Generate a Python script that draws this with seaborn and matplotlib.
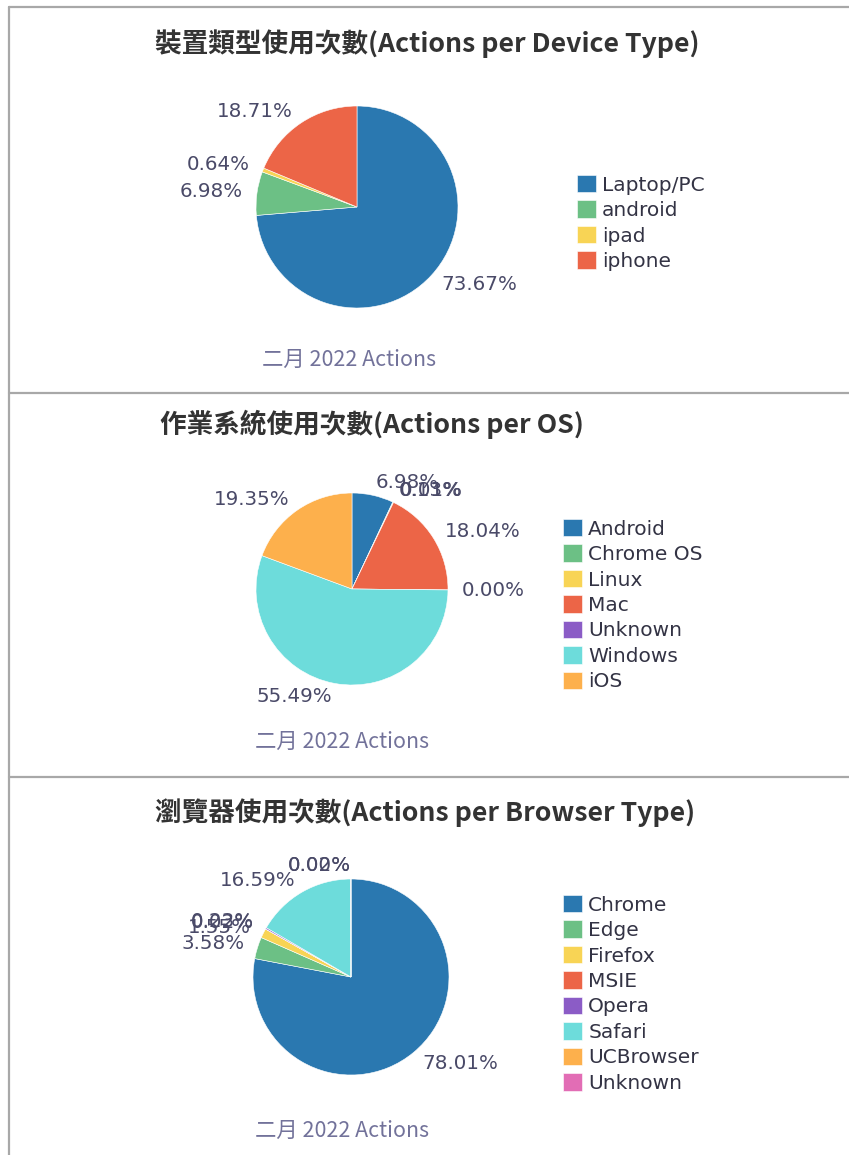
import matplotlib
matplotlib.use('Agg')
import matplotlib.pyplot as plt
import seaborn as sns
from matplotlib.lines import Line2D

sns.set_theme(style="white")
plt.rcParams['font.family'] = ['DejaVu Sans', 'Noto Sans CJK TC']

# data
device_labels = ['Laptop/PC', 'android', 'ipad', 'iphone']
device_values = [73.67, 6.98, 0.64, 18.71]

os_labels = ['Android', 'Chrome OS', 'Linux', 'Mac', 'Unknown', 'Windows', 'iOS']
os_values = [6.98, 0.13, 0.01, 18.04, 0.00, 55.49, 19.35]

browser_labels = ['Chrome', 'Edge', 'Firefox', 'MSIE', 'Opera', 'Safari', 'UCBrowser', 'Unknown']
browser_values = [78.01, 3.58, 1.55, 0.02, 0.23, 16.59, 0.00, 0.02]

titles = ['裝置類型使用次數(Actions per Device Type)',
          '作業系統使用次數(Actions per OS)',
          '瀏覽器使用次數(Actions per Browser Type)']
subtitle = '二月 2022 Actions'

palette = sns.color_palette(['#2a78b0', '#6cc085', '#f8d455', '#ec6547',
                             '#8b5cc6', '#6ddcdb', '#fdb04c', '#e26db5'])

W, H = 849, 1155
fig = plt.figure(figsize=(W / 100, H / 100), dpi=100)
fig.patch.set_facecolor('white')


def fx(x):
    return x / W


def fy(y):
    return 1 - y / H


# panel frame lines
line_kw = dict(color='#a8a8a8', linewidth=1.6)
fig.add_artist(Line2D([fx(9), fx(9)], [fy(7), fy(H)], **line_kw))
for yy in [7, 393, 777]:
    fig.add_artist(Line2D([fx(9), 1], [fy(yy), fy(yy)], **line_kw))

panels = [
    # values, labels, pie center x, y, radius, title pos, subtitle pos, legend pos
    (device_values, device_labels, 357, 207, 101, (155, 44), (262, 360), (577, 175)),
    (os_values, os_labels, 352, 589, 96, (160, 424), (255, 742), (563, 519)),
    (browser_values, browser_labels, 351, 977, 98, (155, 813), (255, 1131), (563, 895)),
]

cjk = ['Noto Sans CJK TC', 'DejaVu Sans']

for i, (vals, labs, cx, cy, r, tpos, spos, lpos) in enumerate(panels):
    ax = fig.add_axes([fx(cx - r), fy(cy + r), 2 * r / W, 2 * r / H])
    pct = [f'{v:.2f}%' for v in vals]
    wedges, texts = ax.pie(vals, labels=pct, colors=palette[:len(vals)],
                           startangle=90, counterclock=False, radius=1,
                           labeldistance=1.14,
                           wedgeprops=dict(edgecolor='white', linewidth=0.4),
                           textprops=dict(fontsize=14.3, color='#4a4a68'))
    ax.set_xlim(-1, 1)
    ax.set_ylim(-1, 1)
    ax.set_aspect('equal')
    ax.axis('off')

    fig.text(fx(tpos[0]), fy(tpos[1]), titles[i], family=cjk, fontsize=19.2,
             fontweight='bold', color='#333333', ha='left', va='center')
    fig.text(fx(spos[0]), fy(spos[1]), subtitle, family=cjk, fontsize=15.4,
             color='#72729a', ha='left', va='center')

    fig.legend(wedges, labs, loc='upper left',
               bbox_to_anchor=(fx(lpos[0]), fy(lpos[1])),
               frameon=False, fontsize=14.5, labelcolor='#333344',
               handlelength=0.95, handleheight=0.95, handletextpad=0.3,
               labelspacing=0.29, borderpad=0, borderaxespad=0)

fig.savefig('out.png', dpi=100)
